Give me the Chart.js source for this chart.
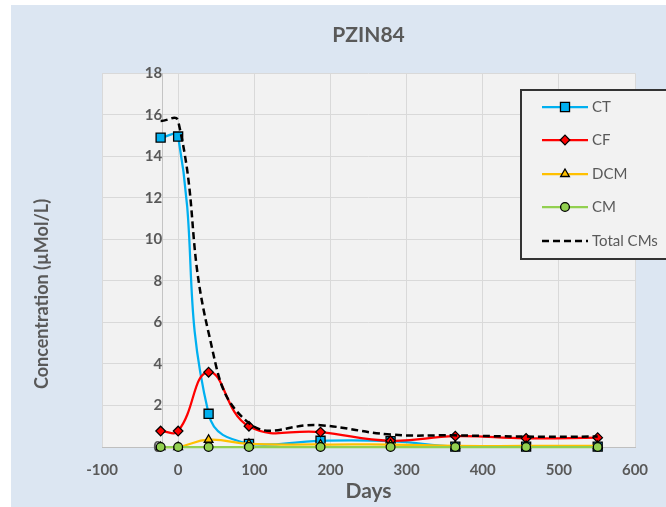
<!DOCTYPE html>
<html>
<head>
<meta charset="utf-8">
<script src="https://cdn.jsdelivr.net/npm/chart.js@4.4.0/dist/chart.umd.min.js"></script>
<style>
  html, body { margin: 0; padding: 0; background: #fff; }
  #wrap { position: absolute; left: 11px; top: 5px; width: 655px; height: 502px; background: #dce6f2; }
</style>
</head>
<body>
<div id="wrap"><canvas id="myChart" width="655" height="502"></canvas></div>
<script>
  // DATA
  const days = [-23, 0, 40, 93, 187, 279, 364, 457, 551];
  const CT = [14.9, 14.95, 1.6, 0.15, 0.3, 0.28, 0.02, 0.02, 0.02];
  const CF = [0.77, 0.77, 3.6, 1.0, 0.72, 0.3, 0.52, 0.42, 0.45];
  const DCM = [0, 0, 0.35, 0.15, 0.12, 0.12, 0.05, 0.05, 0.05];
  const CM = [0, 0, 0, 0, 0, 0, 0, 0, 0];
  const TotalCMs = [15.7, 15.7, 5.5, 1.15, 1.05, 0.6, 0.56, 0.5, 0.5];

  const seriesNames = ['CT', 'CF', 'DCM', 'CM', 'Total CMs'];
  const xTicks = [-100, 0, 100, 200, 300, 400, 500, 600];
  const yTicks = [0, 2, 4, 6, 8, 10, 12, 14, 16, 18];
  const yAxisCross = -21; // vertical axis crosses the days axis here

  const grey = '#595959';
  const pts = (vals) => days.map((d, i) => ({x: d, y: vals[i]}));

  const data = {
    datasets: [
      {
        label: seriesNames[0], data: pts(CT),
        borderColor: '#00b0f0', backgroundColor: '#00b0f0', borderWidth: 2.25,
        pointStyle: 'rect', pointRadius: 6.4, pointBorderColor: '#000', pointBorderWidth: 1.3,
        order: 5
      },
      {
        label: seriesNames[1], data: pts(CF),
        borderColor: '#ff0000', backgroundColor: '#ff0000', borderWidth: 2.25,
        pointStyle: 'rectRot', pointRadius: 4.8, pointBorderColor: '#000', pointBorderWidth: 1.2,
        order: 4
      },
      {
        label: seriesNames[2], data: pts(DCM),
        borderColor: '#ffc000', backgroundColor: '#ffc000', borderWidth: 2.25,
        pointStyle: 'triangle', pointRadius: 5, pointBorderColor: '#000', pointBorderWidth: 1.3,
        order: 3
      },
      {
        label: seriesNames[3], data: pts(CM),
        borderColor: '#92d050', backgroundColor: '#92d050', borderWidth: 2.25,
        pointStyle: 'circle', pointRadius: 4.4, pointBorderColor: '#000', pointBorderWidth: 1.3,
        order: 2
      },
      {
        label: seriesNames[4], data: pts(TotalCMs),
        borderColor: '#000', backgroundColor: '#000', borderWidth: 2.5, borderDash: [7, 4],
        pointRadius: 0,
        order: 1
      }
    ]
  };

  // plot fill, rotated y title and the boxed legend Excel puts on top
  const excelBits = {
    id: 'excelBits',
    beforeDraw(chart) {
      const {ctx, chartArea: a} = chart;
      ctx.save();
      ctx.fillStyle = '#f2f2f2';
      ctx.fillRect(a.left, a.top, a.right - a.left, a.bottom - a.top);
      ctx.restore();
    },
    afterDraw(chart) {
      const ctx = chart.ctx;
      ctx.save();
      ctx.translate(31, 289);
      ctx.rotate(-Math.PI / 2);
      ctx.font = 'bold 18px Lato';
      ctx.fillStyle = grey;
      ctx.textAlign = 'center';
      ctx.textBaseline = 'middle';
      ctx.fillText('Concentration (µMol/L)', 0, 0);
      ctx.restore();

      // legend box
      ctx.save();
      ctx.fillStyle = '#f2f2f2';
      ctx.fillRect(510, 85, 160, 169);
      ctx.strokeStyle = '#333';
      ctx.lineWidth = 2;
      ctx.strokeRect(510, 85, 160, 169);
      const rows = [102, 135, 169, 202, 236];
      chart.data.datasets.forEach((ds, i) => {
        const y = rows[i];
        ctx.save();
        ctx.strokeStyle = ds.borderColor;
        ctx.lineWidth = ds.borderWidth;
        ctx.setLineDash(ds.borderDash || []);
        ctx.beginPath();
        ctx.moveTo(531, y);
        ctx.lineTo(577, y);
        ctx.stroke();
        ctx.restore();
        if (ds.pointRadius > 0) {
          ctx.save();
          ctx.fillStyle = ds.backgroundColor;
          ctx.strokeStyle = ds.pointBorderColor;
          ctx.lineWidth = ds.pointBorderWidth;
          Chart.helpers.drawPoint(ctx, {pointStyle: ds.pointStyle, radius: ds.pointRadius, rotation: 0, borderWidth: ds.pointBorderWidth}, 554, y);
          ctx.restore();
        }
        ctx.font = '15px Lato';
        ctx.fillStyle = grey;
        ctx.textAlign = 'left';
        ctx.textBaseline = 'middle';
        ctx.fillText(ds.label, 581, y);
      });
      ctx.restore();
    }
  };

  const config = {
    type: 'line',
    data,
    plugins: [excelBits],
    options: {
      responsive: false,
      animation: false,
      layout: { padding: { left: 91, right: 31, top: 0, bottom: 0 } },
      datasets: { line: { tension: 0.45, clip: false } },
      plugins: {
        legend: { display: false },
        tooltip: { enabled: false },
        title: {
          display: true, text: 'PZIN84', color: grey,
          font: { family: 'Lato', size: 21, weight: 'bold' },
          padding: { top: 18, bottom: 25 }
        }
      },
      scales: {
        x: {
          type: 'linear', position: 'bottom', min: -100, max: 600,
          afterBuildTicks: (s) => { s.ticks = xTicks.map(v => ({value: v})); },
          afterFit: (s) => { s.height = 60; },
          grid: { color: '#d9d9d9', drawTicks: false },
          border: { color: '#bfbfbf' },
          ticks: { color: grey, padding: 14, font: { family: 'Lato', size: 15, weight: 'bold' } },
          title: { display: true, text: 'Days', color: grey, padding: { top: 0, bottom: 3 },
                   font: { family: 'Lato', size: 21, weight: 'bold' } }
        },
        y: {
          type: 'linear', position: { x: yAxisCross }, min: 0, max: 18,
          afterBuildTicks: (s) => { s.ticks = yTicks.map(v => ({value: v})); },
          grid: { color: '#d9d9d9', drawTicks: false },
          border: { color: '#c4c4c4' },
          ticks: { color: grey, padding: 16, font: { family: 'Lato', size: 15, weight: 'bold' } }
        }
      }
    }
  };

  var myChart = new Chart(document.getElementById('myChart'), config);
</script>
</body>
</html>
